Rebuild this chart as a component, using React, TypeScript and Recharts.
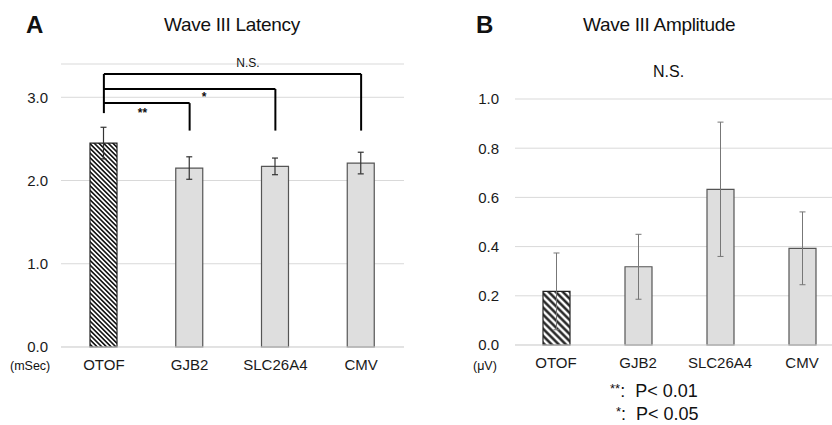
import React from "react";
import {
  BarChart,
  Bar,
  Cell,
  XAxis,
  YAxis,
  CartesianGrid,
  ErrorBar,
  ReferenceLine,
} from "recharts";

const categories = ["OTOF", "GJB2", "SLC26A4", "CMV"];
const latencyMean = [2.45, 2.15, 2.17, 2.21];
const latencySd = [0.19, 0.135, 0.1, 0.13];
const amplitudeMean = [0.218, 0.318, 0.633, 0.393];
const amplitudeSd = [0.156, 0.132, 0.273, 0.148];
const latencyTicks = [0, 1, 2, 3];
const amplitudeTicks = [0, 0.2, 0.4, 0.6, 0.8, 1.0];

// significance brackets on panel A (OTOF vs each group)
const bracketTargets = ["GJB2", "SLC26A4", "CMV"];
const bracketLevels = [2.93, 3.1, 3.28];
const bracketLabels = ["**", "*", "N.S."];
const bracketLeftFoot = 2.81;
const bracketRightFoot = 2.6;

const FONT = "Arial, 'Liberation Sans', Helvetica, sans-serif";
const GRID = "#d9d9d9";

const latencyData = categories.map((name, i) => ({
  name,
  value: latencyMean[i],
  sd: latencySd[i],
}));
const amplitudeData = categories.map((name, i) => ({
  name,
  value: amplitudeMean[i],
  sd: amplitudeSd[i],
}));

// where each bracket label sits along its line: [fraction, dy]
const labelPlace = [
  [0.45, 14],
  [0.585, 12],
  [0.56, -7],
];

const tickStyle = { fill: "#1a1a1a", fontSize: 15, fontFamily: FONT };

function bracketLabel(i: number) {
  return (props: any) => {
    const vb = props.viewBox || {};
    const [f, dy] = labelPlace[i];
    const x = (vb.x ?? 0) + (vb.width ?? 0) * f;
    const y = (vb.y ?? 0) + dy;
    return (
      <text
        x={x}
        y={y}
        textAnchor="middle"
        fontSize={12}
        fontFamily={FONT}
        fontWeight={i < 2 ? "bold" : "normal"}
        fill="#111"
      >
        {bracketLabels[i]}
      </text>
    );
  };
}

function LatencyChart() {
  return (
    <BarChart
      width={420}
      height={425}
      data={latencyData}
      margin={{ top: 64, right: 16, bottom: 48, left: 0 }}
    >
      <CartesianGrid vertical={false} stroke={GRID} />
      <XAxis
        dataKey="name"
        tickLine={false}
        axisLine={{ stroke: GRID }}
        tick={tickStyle}
        tickMargin={6}
      />
      <YAxis
        width={61}
        domain={[0, 3.4]}
        ticks={latencyTicks}
        tickFormatter={(v: number) => v.toFixed(1)}
        axisLine={false}
        tickLine={false}
        tick={tickStyle}
        tickMargin={7}
      />
      <Bar dataKey="value" barSize={27} stroke="#555" strokeWidth={1.2} isAnimationActive={false}>
        {latencyData.map((d, i) => (
          <Cell key={d.name} fill={i === 0 ? "url(#hatchA)" : "#dedede"} stroke={i === 0 ? "#222" : "#555"} />
        ))}
        <ErrorBar dataKey="sd" width={3} stroke="#333" strokeWidth={1.2} />
      </Bar>
      <ReferenceLine
        segment={[
          { x: "OTOF", y: bracketLevels[2] },
          { x: "OTOF", y: bracketLeftFoot },
        ]}
        stroke="#000"
        strokeWidth={2}
        ifOverflow="visible"
      />
      {bracketTargets.map((t, i) => (
        <ReferenceLine
          key={"h" + t}
          segment={[
            { x: "OTOF", y: bracketLevels[i] },
            { x: t, y: bracketLevels[i] },
          ]}
          stroke="#000"
          strokeWidth={2}
          ifOverflow="visible"
          label={bracketLabel(i)}
        />
      ))}
      {bracketTargets.map((t, i) => (
        <ReferenceLine
          key={"v" + t}
          segment={[
            { x: t, y: bracketLevels[i] },
            { x: t, y: bracketRightFoot },
          ]}
          stroke="#000"
          strokeWidth={2}
          ifOverflow="visible"
        />
      ))}
    </BarChart>
  );
}

function AmplitudeChart() {
  return (
    <BarChart
      width={420}
      height={425}
      data={amplitudeData}
      margin={{ top: 99, right: 7, bottom: 50, left: 0 }}
    >
      <CartesianGrid vertical={false} stroke={GRID} />
      <XAxis
        dataKey="name"
        tickLine={false}
        axisLine={{ stroke: GRID }}
        tick={tickStyle}
        tickMargin={6}
      />
      <YAxis
        width={85}
        domain={[0, 1]}
        ticks={amplitudeTicks}
        tickFormatter={(v: number) => v.toFixed(1)}
        axisLine={false}
        tickLine={false}
        tick={tickStyle}
        tickMargin={10}
      />
      <Bar dataKey="value" barSize={27} stroke="#555" strokeWidth={1.2} isAnimationActive={false}>
        {amplitudeData.map((d, i) => (
          <Cell key={d.name} fill={i === 0 ? "url(#hatchB)" : "#dedede"} stroke={i === 0 ? "#222" : "#555"} />
        ))}
        <ErrorBar dataKey="sd" width={3} stroke="#777" strokeWidth={1} />
      </Bar>
    </BarChart>
  );
}

const abs = (s: React.CSSProperties): React.CSSProperties => ({
  position: "absolute",
  fontFamily: FONT,
  color: "#111",
  whiteSpace: "nowrap",
  lineHeight: 1,
  ...s,
});

function Hatch({ id, size, line }: { id: string; size: number; line: number }) {
  return (
    <pattern
      id={id}
      patternUnits="userSpaceOnUse"
      width={size}
      height={size}
      patternTransform="rotate(-45)"
    >
      <rect width={size} height={size} fill="#fff" />
      <line x1={size / 2} y1={0} x2={size / 2} y2={size} stroke="#111" strokeWidth={line} />
    </pattern>
  );
}

export default function App() {
  return (
    <div
      style={{
        position: "absolute",
        left: 0,
        top: 0,
        width: 832,
        height: 425,
        overflow: "hidden",
        background: "#fff",
      }}
    >
      <svg width={0} height={0} style={{ position: "absolute" }}>
        <defs>
          <Hatch id="hatchA" size={3.3} line={1.6} />
          <Hatch id="hatchB" size={5} line={2.3} />
        </defs>
      </svg>

      <div style={{ position: "absolute", left: 0, top: 0 }}>
        <LatencyChart />
      </div>
      <div style={{ position: "absolute", left: 430, top: 0 }}>
        <AmplitudeChart />
      </div>

      <div style={abs({ left: 26, top: 13, fontSize: 24, fontWeight: "bold" })}>A</div>
      <div style={abs({ left: 476, top: 13, fontSize: 24, fontWeight: "bold" })}>B</div>
      <div style={abs({ left: 164, top: 15, fontSize: 19, letterSpacing: -0.3 })}>Wave III Latency</div>
      <div style={abs({ left: 583, top: 15, fontSize: 19, letterSpacing: -0.3 })}>Wave III Amplitude</div>
      <div style={abs({ left: 653, top: 64, fontSize: 16 })}>N.S.</div>
      <div style={abs({ left: 10, top: 360, fontSize: 12.5 })}>(mSec)</div>
      <div style={abs({ left: 473, top: 360, fontSize: 12.5 })}>(μV)</div>
      <div style={abs({ left: 610, top: 382, fontSize: 18 })}>
        <span style={{ fontSize: 13, verticalAlign: "top" }}>**</span>
        <span>:&nbsp;&nbsp;P&lt; 0.01</span>
      </div>
      <div style={abs({ left: 616, top: 405, fontSize: 18 })}>
        <span style={{ fontSize: 13, verticalAlign: "top" }}>*</span>
        <span>:&nbsp;&nbsp;P&lt; 0.05</span>
      </div>
    </div>
  );
}
